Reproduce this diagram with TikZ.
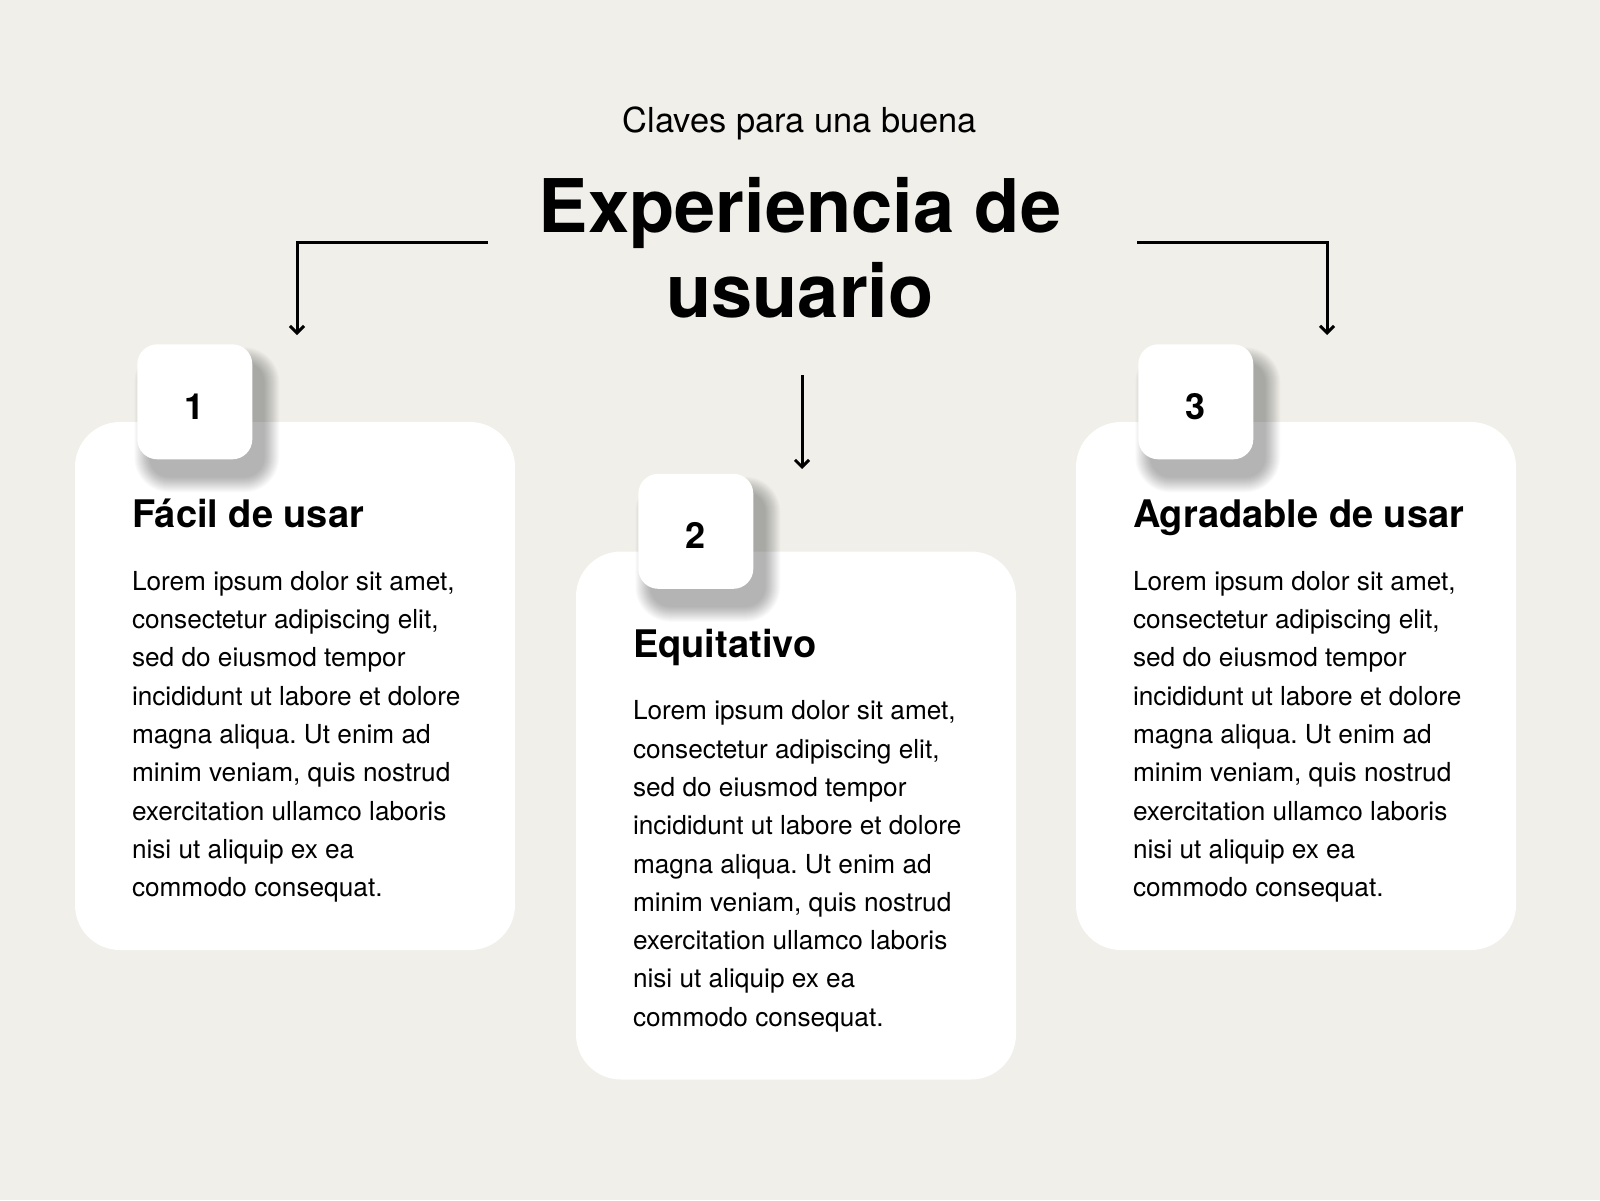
\documentclass[tikz,border=0pt]{standalone}
\usepackage{fontspec}
\setmainfont{TeX Gyre Heros}
\usetikzlibrary{arrows.meta}

\definecolor{paper}{RGB}{240,239,234}

\frenchspacing
\newcommand{\loremlines}{Lorem ipsum dolor sit amet,\\
  consectetur adipiscing elit,\\
  sed do eiusmod tempor\\
  incididunt ut labore et dolore\\
  magna aliqua. Ut enim ad\\
  minim veniam, quis nostrud\\
  exercitation ullamco laboris\\
  nisi ut aliquip ex ea\\
  commodo consequat.}

% soft shadow under a badge centre (stacked faint layers)
\newcommand{\softshadow}[1]{%
  \foreach \s [evaluate=\s as \r using 20+\s] in {15,14,...,0}
    \fill[black, opacity=0.02, rounded corners=\r pt]
      ([shift={(-45.5-\s,-39.5-\s)}]#1) rectangle ([shift={(69.5+\s,75.5+\s)}]#1);}

\begin{document}
\begin{tikzpicture}[x=1pt,y=-1pt,
  card/.style={fill=white, rounded corners=45pt, inner sep=0pt,
               minimum width=440pt, minimum height=528pt},
  badge/.style={fill=white, rounded corners=20pt, inner sep=0pt, minimum size=115pt,
                text height=35pt, text depth=0pt,
                font=\fontsize{36}{36}\selectfont\bfseries},
  heading/.style={anchor=base west, inner sep=0pt, font=\fontsize{38}{44}\selectfont\bfseries},
  body/.style={anchor=north west, inner sep=0pt, align=left,
               font=\fontsize{26.2}{38.3}\selectfont},
  link/.style={line width=3pt, -{Straight Barb[length=7pt,width=14pt]}}]

  \useasboundingbox (0,0) rectangle (1600,1200);
  \fill[paper] (0,0) rectangle (1600,1200);

  % title
  \node[anchor=base, inner sep=0pt, font=\fontsize{34.4}{34.4}\selectfont]
        (subtitle) at (800,132) {Claves para una buena};
  \node[anchor=north, inner sep=0pt, align=center,
        font=\fontsize{74}{85}\selectfont\bfseries]
        (title) at (800,177) {Experiencia de\\usuario};

  % cards
  \node[card] (card1) at (295,686) {};
  \node[card] (card2) at (796,815.5) {};
  \node[card] (card3) at (1296,686) {};

  % number badges with their shadows
  \coordinate (spot1) at ([shift={(120,-20)}]card1.north west);
  \coordinate (spot2) at ([shift={(120,-20)}]card2.north west);
  \coordinate (spot3) at ([shift={(120,-20)}]card3.north west);
  \softshadow{spot1}
  \softshadow{spot2}
  \softshadow{spot3}
  \node[badge] (badge1) at (spot1) {1};
  \node[badge] (badge2) at (spot2) {2};
  \node[badge] (badge3) at (spot3) {3};

  % card texts
  \node[heading] (head1) at ([shift={(57,106)}]card1.north west) {Fácil de usar};
  \node[body] (text1) at ([shift={(57,149.2)}]card1.north west) {\loremlines};

  \node[heading] (head2) at ([shift={(57,106)}]card2.north west) {Equitativo};
  \node[body] (text2) at ([shift={(57,149.2)}]card2.north west) {\loremlines};

  \node[heading] (head3) at ([shift={(57,106)}]card3.north west) {Agradable de usar};
  \node[body] (text3) at ([shift={(57,149.2)}]card3.north west) {\loremlines};

  % arrows
  \coordinate (left0) at (488,242);
  \coordinate (left1) at (297,335);
  \coordinate (mid0) at (802,375);
  \coordinate (mid1) at (802,469);
  \coordinate (right0) at (1137,242);
  \coordinate (right1) at (1327,335);

  \draw[link] (left0) -| (left1);
  \draw[link] (mid0) -- (mid1);
  \draw[link] (right0) -| (right1);

\end{tikzpicture}
\end{document}
